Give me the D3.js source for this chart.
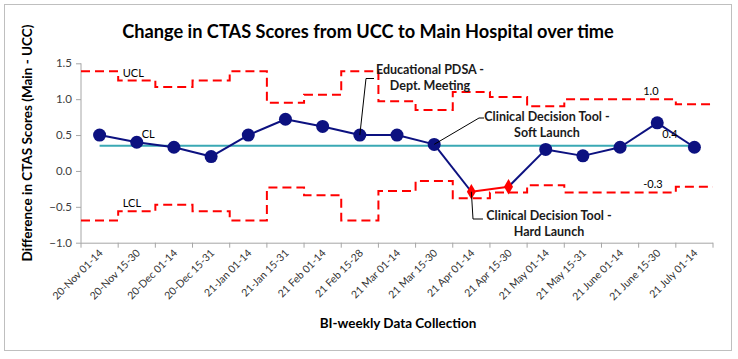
<!DOCTYPE html>
<html>
<head>
<meta charset="utf-8">
<script src="https://cdn.jsdelivr.net/npm/d3@7"></script>
<style>
  body { margin: 0; background: #fff; }
  svg { font-family: Lato, "Open Sans", sans-serif; }
</style>
</head>
<body>
<div id="chart"></div>
<script>
// bi-weekly periods
var categories = ["20-Nov 01-14", "20-Nov 15-30", "20-Dec 01-14", "20-Dec 15-31",
    "21-Jan 01-14", "21-Jan 15-31", "21 Feb 01-14", "21 Feb 15-28", "21 Mar 01-14",
    "21 Mar 15-30", "21 Apr 01-14", "21 Apr 15-30", "21 May 01-14", "21 May 15-31",
    "21 June 01-14", "21 June 15-30", "21 July 01-14"];
var diffValues = [0.5, 0.4, 0.33, 0.2, 0.5, 0.72, 0.62, 0.5, 0.5, 0.37,
    -0.29, -0.22, 0.3, 0.21, 0.33, 0.67, 0.33];
var uclValues = [1.39, 1.26, 1.17, 1.26, 1.39, 0.95, 1.06, 1.39, 0.97, 0.85,
    1.10, 1.03, 0.90, 1.0, 1.0, 1.0, 0.93];
var lclValues = [-0.69, -0.56, -0.47, -0.56, -0.69, -0.23, -0.34, -0.69, -0.28, -0.14,
    -0.38, -0.30, -0.20, -0.30, -0.30, -0.30, -0.22];
var clValue = 0.35;
var flagged = [10, 11];   // points below LCL shown as red diamonds
var yTicks = [-1.0, -0.5, 0.0, 0.5, 1.0, 1.5];

var vWidth = 738, vHeight = 359;
var vPlot = { left: 81, right: 713, top: 63.3, bottom: 242.7 };

var svg = d3.select("#chart").append("svg")
    .attr("width", vWidth)
    .attr("height", vHeight);

// chart frame
svg.append("rect")
    .attr("x", 4.5).attr("y", 4.5)
    .attr("width", 727).attr("height", 346)
    .attr("fill", "#fff")
    .attr("stroke", "#bfbfbf");

var x = d3.scaleBand()
    .domain(categories)
    .range([vPlot.left, vPlot.right])
    .padding(0);
var y = d3.scaleLinear()
    .domain([-1, 1.5])
    .range([vPlot.bottom, vPlot.top]);

function cx(i) { return x(categories[i]) + x.bandwidth() / 2; }

// y axis
var yAxis = svg.append("g")
    .attr("transform", "translate(" + vPlot.left + ",0)")
    .call(d3.axisLeft(y).tickValues(yTicks).tickFormat(d3.format(".1f")).tickSize(5).tickPadding(4));
yAxis.selectAll("path, line").attr("stroke", "#a6a6a6");
yAxis.selectAll("text").attr("font-size", 11.5).attr("fill", "#404040")
    .attr("font-family", "Lato, sans-serif");
yAxis.select(".domain").attr("d", "M0," + vPlot.bottom + "V" + vPlot.top);

// x axis, ticks on category boundaries
var xAxis = svg.append("g")
    .attr("transform", "translate(0," + vPlot.bottom + ")");
xAxis.append("path")
    .attr("stroke", "#a6a6a6")
    .attr("d", "M" + vPlot.left + ",0.5H" + vPlot.right);
var vBounds = categories.map(function (c) { return x(c); }).concat([vPlot.right]);
xAxis.selectAll("line.bnd").data(vBounds).enter().append("line")
    .attr("class", "bnd")
    .attr("x1", function (d) { return d; }).attr("x2", function (d) { return d; })
    .attr("y1", 0).attr("y2", 5)
    .attr("stroke", "#a6a6a6");
xAxis.selectAll("text.cat").data(categories).enter().append("text")
    .attr("class", "cat")
    .attr("text-anchor", "end")
    .attr("font-size", 10.5)
    .attr("fill", "#333")
    .attr("transform", function (d, i) {
        return "translate(" + (cx(i) + 4) + ",11) rotate(-45)";
    })
    .text(function (d) { return d; });

// step lines for control limits
function stepPoints(aValues) {
    var vPts = aValues.map(function (v, i) { return [x(categories[i]), y(v)]; });
    vPts.push([vPlot.right, y(aValues[aValues.length - 1])]);
    return vPts;
}
var stepLine = d3.line().curve(d3.curveStepAfter);
[uclValues, lclValues].forEach(function (aVals) {
    svg.append("path")
        .attr("d", stepLine(stepPoints(aVals)))
        .attr("fill", "none")
        .attr("stroke", "#ff0000")
        .attr("stroke-width", 2)
        .attr("stroke-dasharray", "9,5");
});

// centre line
svg.append("line")
    .attr("x1", cx(0)).attr("x2", cx(categories.length - 1) + 4)
    .attr("y1", y(clValue)).attr("y2", y(clValue))
    .attr("stroke", "#3aa9b4")
    .attr("stroke-width", 2);

// data line, segment between flagged points in red
for (var i = 0; i < diffValues.length - 1; i++) {
    var vRed = flagged.indexOf(i) >= 0 && flagged.indexOf(i + 1) >= 0;
    svg.append("line")
        .attr("x1", cx(i)).attr("y1", y(diffValues[i]))
        .attr("x2", cx(i + 1)).attr("y2", y(diffValues[i + 1]))
        .attr("stroke", vRed ? "#ff0000" : "#0c1180")
        .attr("stroke-width", 2);
}

// markers
diffValues.forEach(function (v, i) {
    if (flagged.indexOf(i) >= 0) {
        svg.append("path")
            .attr("d", d3.symbol(d3.symbolDiamond, 70)())
            .attr("transform", "translate(" + cx(i) + "," + y(v) + ")")
            .attr("fill", "#ff0000");
    } else {
        svg.append("circle")
            .attr("cx", cx(i)).attr("cy", y(v)).attr("r", 6.5)
            .attr("fill", "#0c1180");
    }
});

// limit labels
var limitLabels = [
    { t: "UCL", i: 1, v: uclValues[1], dx: -14, dy: 0 },
    { t: "CL", i: 1, v: clValue, dx: 5, dy: -4 },
    { t: "LCL", i: 1, v: lclValues[1], dx: -14, dy: 0 },
    { t: "1.0", i: 15, v: uclValues[15], dx: -14, dy: 0 },
    { t: "0.4", i: 15, v: clValue, dx: 5, dy: -4 },
    { t: "-0.3", i: 15, v: lclValues[15], dx: -14, dy: 0 }
];
svg.selectAll("text.lim").data(limitLabels).enter().append("text")
    .attr("class", "lim")
    .attr("x", function (d) { return cx(d.i) + d.dx; })
    .attr("y", function (d) { return y(d.v) + d.dy - 4; })
    .attr("font-size", 11)
    .attr("fill", "#000")
    .text(function (d) { return d.t; });

// annotations
var notes = [
    { lines: ["Educational PDSA -", "Dept. Meeting"], tx: 430, ty: 74, i: 7,
        path: [[366, 78.5], [374, 78.5]] },
    { lines: ["Clinical Decision Tool -", "Soft Launch"], tx: 547, ty: 121, i: 9,
        path: [[479, 118], [484, 118]] },
    { lines: ["Clinical Decision Tool -", "Hard Launch"], tx: 549, ty: 220, i: 10,
        path: [[473, 219], [483, 219]] }
];
notes.forEach(function (n) {
    var vPts = [[cx(n.i), y(diffValues[n.i])]].concat(n.path);
    svg.append("path")
        .attr("d", d3.line()(vPts))
        .attr("fill", "none")
        .attr("stroke", "#000")
        .attr("stroke-width", 1);
    var t = svg.append("text")
        .attr("text-anchor", "middle")
        .attr("font-size", 12.5)
        .attr("font-weight", "bold")
        .attr("fill", "#1a1a1a");
    n.lines.forEach(function (l, k) {
        t.append("tspan").attr("x", n.tx).attr("y", n.ty + k * 16).text(l);
    });
});

// titles
svg.append("text")
    .attr("x", 368).attr("y", 38)
    .attr("text-anchor", "middle")
    .attr("font-size", 18.2)
    .attr("font-weight", "bold")
    .text("Change in CTAS Scores from UCC to Main Hospital over time");
svg.append("text")
    .attr("x", 398).attr("y", 328)
    .attr("text-anchor", "middle")
    .attr("font-size", 13.5)
    .attr("font-weight", "bold")
    .text("BI-weekly Data Collection");
svg.append("text")
    .attr("transform", "translate(32,143) rotate(-90)")
    .attr("text-anchor", "middle")
    .attr("font-size", 13.5)
    .attr("font-weight", "bold")
    .text("Difference in CTAS Scores (Main - UCC)");
</script>
</body>
</html>
